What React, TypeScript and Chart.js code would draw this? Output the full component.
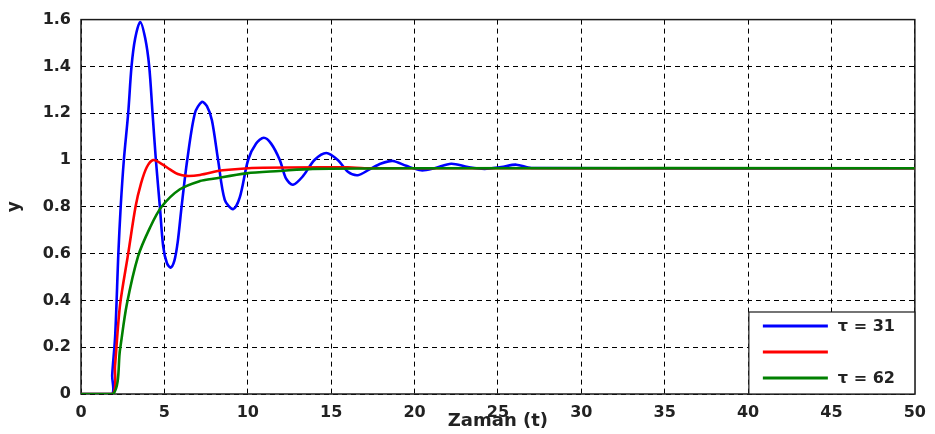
import React, { useEffect, useRef } from "react";
import { Chart, registerables } from "chart.js";

Chart.register(...registerables);

// Time samples and responses
const tBlue = [0, 1.85, 1.87, 2.05, 2.24, 2.38, 2.57, 2.83, 3.03, 3.25, 3.55, 3.85, 4.09, 4.29, 4.49, 4.73, 4.93, 5.15, 5.37, 5.6, 5.8, 6.03, 6.37, 6.83, 7.25, 7.55, 7.85, 8.22, 8.62, 9.12, 9.52, 10.02, 10.5, 10.96, 11.4, 11.92, 12.3, 12.71, 13.3, 14.0, 14.71, 15.4, 16.0, 16.6, 17.3, 18.0, 18.7, 19.5, 20.4, 21.2, 22.2, 23.2, 24.2, 25.2, 26.1, 27.0, 50];
const yBlue = [0, 0, 0.08, 0.25, 0.6, 0.8, 1.0, 1.2, 1.4, 1.52, 1.59, 1.52, 1.4, 1.2, 1.0, 0.8, 0.63, 0.56, 0.54, 0.57, 0.65, 0.8, 1.0, 1.2, 1.248, 1.23, 1.17, 1.0, 0.83, 0.79, 0.84, 1.0, 1.07, 1.095, 1.07, 1.0, 0.92, 0.894, 0.93, 1.0, 1.03, 1.0, 0.95, 0.935, 0.96, 0.985, 0.996, 0.975, 0.956, 0.965, 0.984, 0.97, 0.962, 0.97, 0.98, 0.966, 0.965];

const tRed = [0, 1.9, 2.04, 2.34, 2.83, 3.27, 3.6, 3.95, 4.33, 4.8, 5.33, 5.8, 6.33, 7.13, 8.5, 10.9, 16.0, 17.0, 50];
const yRed = [0, 0, 0.12, 0.38, 0.6, 0.8, 0.9, 0.97, 1.0, 0.985, 0.96, 0.94, 0.932, 0.936, 0.956, 0.967, 0.969, 0.965, 0.965];

const tGreen = [0, 1.93, 2.34, 2.74, 3.43, 4.13, 4.83, 5.93, 7.13, 7.92, 9.92, 11.9, 13.9, 20, 50];
const yGreen = [0, 0, 0.19, 0.38, 0.59, 0.71, 0.8, 0.875, 0.91, 0.92, 0.943, 0.953, 0.962, 0.965, 0.965];

const xTicks = [0, 5, 10, 15, 20, 25, 30, 35, 40, 45, 50];
const yTicks = [0, 0.2, 0.4, 0.6, 0.8, 1, 1.2, 1.4, 1.6];
const yTickLabels = ["0", "0.2", "0.4", "0.6", "0.8", "1", "1.2", "1.4", "1.6"];

const legendLabels = ["τ = 31", "", "τ = 62"];
const seriesColors = ["#0000ff", "#ff0000", "#008000"];

const FONT = "'DejaVu Sans', sans-serif";

const toPts = (t: number[], y: number[]) => t.map((x, i) => ({ x, y: y[i] }));

const framePlugin = {
  id: "frame",
  beforeDatasetsDraw(chart: any) {
    const { ctx, chartArea: a } = chart;
    ctx.save();
    ctx.strokeStyle = "#1a1a1a";
    ctx.lineWidth = 1.5;
    ctx.setLineDash([]);
    ctx.strokeRect(a.left, a.top, a.right - a.left, a.bottom - a.top);
    ctx.restore();
  },
  afterDatasetsDraw(chart: any) {
    const { ctx, chartArea: a } = chart;
    ctx.save();
    const bw = 166, bh = 82;
    const bx = a.right - bw, by = a.bottom - bh;
    ctx.fillStyle = "#ffffff";
    ctx.fillRect(bx, by, bw, bh);
    ctx.strokeStyle = "#1a1a1a";
    ctx.lineWidth = 1.2;
    ctx.strokeRect(bx, by, bw, bh);
    ctx.font = `bold 16px ${FONT}`;
    ctx.textBaseline = "middle";
    ctx.textAlign = "left";
    for (let i = 0; i < 3; i++) {
      const yy = by + 14 + i * 26;
      ctx.strokeStyle = seriesColors[i];
      ctx.lineWidth = 3;
      ctx.beginPath();
      ctx.moveTo(bx + 14, yy);
      ctx.lineTo(bx + 79, yy);
      ctx.stroke();
      ctx.fillStyle = "#222";
      if (legendLabels[i]) ctx.fillText(legendLabels[i], bx + 89, yy + 1);
    }
    ctx.restore();
  },
  afterDraw(chart: any) {
    const { ctx, chartArea: a } = chart;
    ctx.save();
    ctx.fillStyle = "#222";
    ctx.font = `bold 18px ${FONT}`;
    ctx.textAlign = "center";
    ctx.textBaseline = "middle";
    ctx.fillText("Zaman (t)", (a.left + a.right) / 2, 421);
    ctx.translate(15, (a.top + a.bottom) / 2);
    ctx.rotate(-Math.PI / 2);
    ctx.font = `bold 17px ${FONT}`;
    ctx.fillText("y", 0, 0);
    ctx.restore();
  },
};

export default function App() {
  const ref = useRef<HTMLCanvasElement>(null);
  useEffect(() => {
    document.body.style.margin = "0";
    const mk = (label: string, t: number[], y: number[], color: string, order: number) => ({
      label,
      data: toPts(t, y),
      borderColor: color,
      backgroundColor: color,
      borderWidth: 2.6,
      pointRadius: 0,
      tension: 0.3,
      fill: false,
      order,
    });
    const chart = new Chart(ref.current as HTMLCanvasElement, {
      type: "line",
      data: {
        datasets: [
          mk("τ = 31", tBlue, yBlue, seriesColors[0], 3),
          mk("", tRed, yRed, seriesColors[1], 2),
          mk("τ = 62", tGreen, yGreen, seriesColors[2], 1),
        ],
      },
      options: {
        animation: false,
        responsive: false,
        layout: { padding: { top: 17, right: 19, left: 0, bottom: 0 } },
        plugins: { legend: { display: false }, tooltip: { enabled: false } },
        scales: {
          x: {
            type: "linear",
            min: 0,
            max: 50,
            afterBuildTicks: (s: any) => {
              s.ticks = xTicks.map((v) => ({ value: v }));
            },
            afterFit: (s: any) => {
              s.height = 40;
            },
            grid: { color: "#000", lineWidth: 1, drawTicks: false },
            border: { display: false, dash: [5, 4] },
            ticks: {
              color: "#222",
              padding: 9,
              maxRotation: 0,
              font: { family: FONT, size: 16, weight: "bold" },
            },
          },
          y: {
            type: "linear",
            min: 0,
            max: 1.6,
            afterBuildTicks: (s: any) => {
              s.ticks = yTicks.map((v) => ({ value: v }));
            },
            afterFit: (s: any) => {
              s.width = 81;
            },
            grid: { color: "#000", lineWidth: 1, drawTicks: false },
            border: { display: false, dash: [5, 4] },
            ticks: {
              color: "#222",
              padding: 10,
              font: { family: FONT, size: 16, weight: "bold" },
              callback: (v: any) => {
                const i = yTicks.findIndex((t) => Math.abs(t - Number(v)) < 1e-9);
                return i >= 0 ? yTickLabels[i] : "";
              },
            },
          },
        },
      },
      plugins: [framePlugin],
    });
    return () => chart.destroy();
  }, []);
  return (
    <div style={{ position: "absolute", left: 0, top: 0, width: 935, height: 434, background: "#fff" }}>
      <canvas ref={ref} width={935} height={434} />
    </div>
  );
}
